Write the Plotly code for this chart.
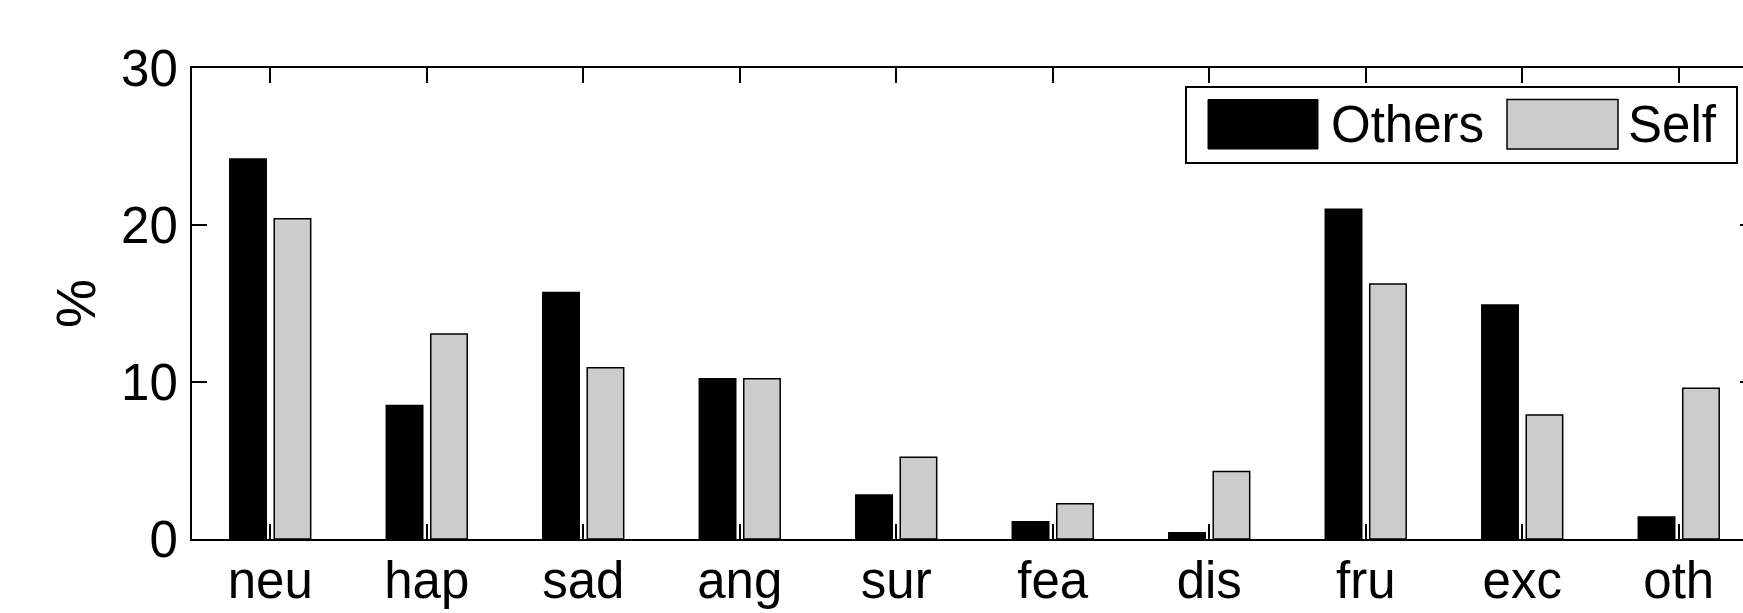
import plotly.graph_objects as go

categories = ["neu", "hap", "sad", "ang", "sur", "fea", "dis", "fru", "exc", "oth"]
others = [24.2, 8.5, 15.7, 10.2, 2.8, 1.1, 0.4, 21.0, 14.9, 1.4]
self_vals = [20.4, 13.05, 10.9, 10.2, 5.2, 2.25, 4.3, 16.25, 7.9, 9.6]
y_ticks = [0, 10, 20, 30]
series_names = ["Others", "Self"]

W, H = 1743, 613
L, R, T, B = 192, 0, 68, 74
FONT = "Liberation Sans, Arial, Helvetica, sans-serif"

x = list(range(1, len(categories) + 1))
bw = 0.233

fig = go.Figure()
fig.add_trace(go.Bar(x=x, y=others, name=series_names[0], width=bw, offset=-0.142 - bw / 2,
                     marker=dict(color="#000000", line=dict(color="#000000", width=1.5)),
                     showlegend=False))
fig.add_trace(go.Bar(x=x, y=self_vals, name=series_names[1], width=bw, offset=0.142 - bw / 2,
                     marker=dict(color="#cccccc", line=dict(color="#000000", width=1.5)),
                     showlegend=False))
# invisible trace for right-side inward ticks
fig.add_trace(go.Scatter(x=[None], y=[None], yaxis="y2", showlegend=False, hoverinfo="skip"))

xr = 1 + (W - 269.3) / 156.6

fig.update_layout(
    width=W, height=H,
    margin=dict(l=L, r=R, t=T, b=B, pad=0),
    paper_bgcolor="white", plot_bgcolor="white",
    font=dict(family=FONT, color="black"),
    barmode="overlay",
    xaxis=dict(
        range=[0.5, xr], tickmode="array", tickvals=x, ticktext=categories,
        showline=True, linecolor="black", linewidth=2, mirror="ticks",
        ticks="inside", ticklen=15, tickwidth=1.5, tickcolor="black",
        tickfont=dict(size=51, family=FONT), showgrid=False, zeroline=False,
        ticklabelstandoff=-4,
    ),
    yaxis=dict(
        range=[0, 30], tickmode="array", tickvals=y_ticks,
        showline=True, linecolor="black", linewidth=2, mirror=False,
        ticks="inside", ticklen=15, tickwidth=1.5, tickcolor="black",
        tickfont=dict(size=51, family=FONT), showgrid=False, zeroline=False,
        ticklabelstandoff=2,
        title=dict(text="%", font=dict(size=55, family=FONT), standoff=8),
    ),
    yaxis2=dict(
        range=[0, 30], overlaying="y", side="right", tickmode="array", tickvals=y_ticks,
        ticks="inside", ticklen=3, tickwidth=1.5, tickcolor="black",
        showticklabels=False, showgrid=False, zeroline=False, showline=False,
    ),
)

# legend drawn as a box with swatches (pixel positions converted to paper fractions)
def px(xp):
    return (xp - L) / (W - L - R)

def py(yp):
    return 1 - (yp - T) / (H - T - B)

shapes = [
    dict(type="rect", xref="paper", yref="paper", x0=px(1186), x1=px(1737), y0=py(163), y1=py(87),
         line=dict(color="black", width=2), fillcolor="white", layer="above"),
    dict(type="rect", xref="paper", yref="paper", x0=px(1208), x1=px(1318), y0=py(149), y1=py(99.5),
         line=dict(color="black", width=1), fillcolor="black", layer="above"),
    dict(type="rect", xref="paper", yref="paper", x0=px(1507), x1=px(1618), y0=py(149), y1=py(99.5),
         line=dict(color="black", width=1.5), fillcolor="#cccccc", layer="above"),
]
fig.update_layout(shapes=shapes)
fig.add_annotation(xref="paper", yref="paper", x=px(1329), y=py(125), text=series_names[0],
                   showarrow=False, xanchor="left", yanchor="middle", font=dict(size=51, family=FONT))
fig.add_annotation(xref="paper", yref="paper", x=px(1626), y=py(125), text=series_names[1],
                   showarrow=False, xanchor="left", yanchor="middle", font=dict(size=51, family=FONT))

fig.write_html("out.html")
